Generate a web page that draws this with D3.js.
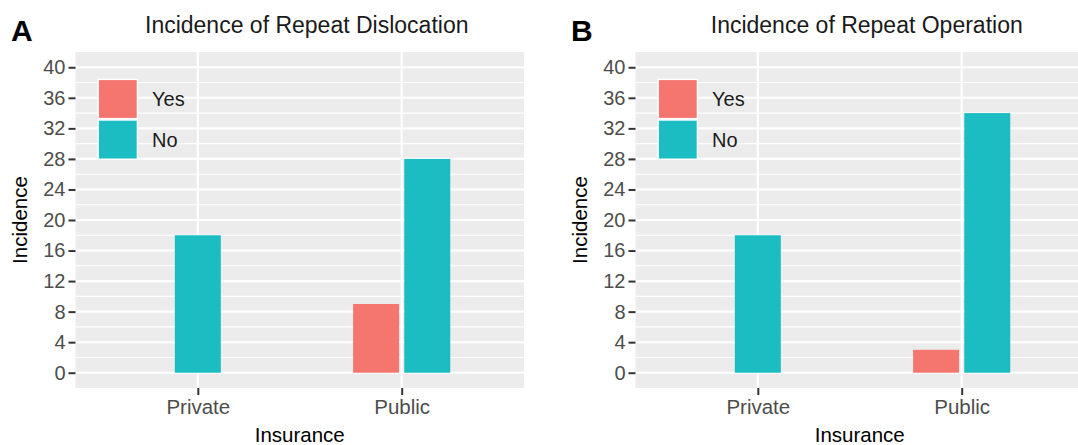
<!DOCTYPE html>
<meta charset="utf-8">
<script src="https://d3js.org/d3.v7.min.js"></script>
<style>
  body { margin: 0; background: #fff; }
  svg text { font-family: "Liberation Sans", Arial, Helvetica, sans-serif; }
</style>
<div id="chart"></div>
<script>
// data
var categories = ["Private", "Public"];
var groups = ["Yes", "No"];
var panelLabels = ["A", "B"];
var panelTitles = ["Incidence of Repeat Dislocation", "Incidence of Repeat Operation"];
// null = no bar for that group
var dislocationYes = [null, 9];
var dislocationNo = [18, 28];
var operationYes = [null, 3];
var operationNo = [18, 34];
var yTicks = [0, 4, 8, 12, 16, 20, 24, 28, 32, 36, 40];
var yMinor = [2, 6, 10, 14, 18, 22, 26, 30, 34, 38];

var colors = { Yes: "#F5766F", No: "#1CBDC2" };

var W = 1078, H = 445;
var svg = d3.select("#chart").append("svg")
  .attr("width", W).attr("height", H);

var margin = { top: 52, left: 75.5 },
    pw = 448.5, ph = 336;

var panels = [
  { label: panelLabels[0], title: panelTitles[0], yes: dislocationYes, no: dislocationNo, dx: 0 },
  { label: panelLabels[1], title: panelTitles[1], yes: operationYes, no: operationNo, dx: 560 }
];

panels.forEach(function(p) {
  var root = svg.append("g").attr("transform", "translate(" + p.dx + ",0)");

  // panel label
  root.append("text")
    .attr("x", 11).attr("y", 41)
    .attr("font-size", "30px").attr("font-weight", "bold")
    .text(p.label);

  // title
  root.append("text")
    .attr("x", margin.left + pw / 2 + 7).attr("y", 33)
    .attr("text-anchor", "middle")
    .attr("font-size", "23px").attr("fill", "#1a1a1a")
    .text(p.title);

  var g = root.append("g").attr("transform", "translate(" + margin.left + "," + margin.top + ")");

  var x = d3.scalePoint().domain(categories).range([0, pw]).padding(0.6);
  var y = d3.scaleLinear().domain([-2, 42]).range([ph, 0]);

  g.append("rect").attr("width", pw).attr("height", ph).attr("fill", "#EBECEB");

  // grid
  g.selectAll(".minor").data(yMinor).enter().append("line")
    .attr("x1", 0).attr("x2", pw)
    .attr("y1", function(d) { return y(d); }).attr("y2", function(d) { return y(d); })
    .attr("stroke", "#fff").attr("stroke-width", 1.1);
  g.selectAll(".major").data(yTicks).enter().append("line")
    .attr("x1", 0).attr("x2", pw)
    .attr("y1", function(d) { return y(d); }).attr("y2", function(d) { return y(d); })
    .attr("stroke", "#fff").attr("stroke-width", 2.1);
  g.selectAll(".vmajor").data(categories).enter().append("line")
    .attr("x1", function(d) { return x(d); }).attr("x2", function(d) { return x(d); })
    .attr("y1", 0).attr("y2", ph)
    .attr("stroke", "#fff").attr("stroke-width", 2.1);

  // bars (dodged; a lone bar sits centred)
  var barW = x.step() * 0.2256, off = x.step() * 0.1255;
  var rows = [];
  categories.forEach(function(c, i) {
    var present = groups.filter(function(gr) { return (gr === "Yes" ? p.yes[i] : p.no[i]) != null; });
    present.forEach(function(gr, j) {
      var shift = present.length === 1 ? 0 : (j === 0 ? -off : off);
      rows.push({ cat: c, group: gr, value: gr === "Yes" ? p.yes[i] : p.no[i], shift: shift });
    });
  });
  g.selectAll(".bar").data(rows).enter().append("rect")
    .attr("x", function(d) { return x(d.cat) + d.shift - barW / 2; })
    .attr("width", barW)
    .attr("y", function(d) { return y(d.value); })
    .attr("height", function(d) { return y(0) - y(d.value); })
    .attr("fill", function(d) { return colors[d.group]; });

  // axes
  var yAxis = g.append("g")
    .call(d3.axisLeft(y).tickValues(yTicks).tickSize(7).tickPadding(3));
  yAxis.select(".domain").remove();
  yAxis.selectAll("line").attr("stroke", "#333").attr("stroke-width", 2);
  yAxis.selectAll("text").attr("font-size", "20px").attr("fill", "#4D4D4D")
    .attr("font-family", null);

  var xAxis = g.append("g").attr("transform", "translate(0," + ph + ")")
    .call(d3.axisBottom(x).tickSize(7).tickPadding(4));
  xAxis.select(".domain").remove();
  xAxis.selectAll("line").attr("stroke", "#333").attr("stroke-width", 2);
  xAxis.selectAll("text").attr("font-size", "20.5px").attr("fill", "#4D4D4D")
    .attr("font-family", null);

  // axis titles
  root.append("text")
    .attr("x", margin.left + pw / 2).attr("y", 442)
    .attr("text-anchor", "middle").attr("font-size", "20.5px")
    .text("Insurance");
  root.append("text")
    .attr("transform", "translate(27," + (margin.top + ph / 2) + ") rotate(-90)")
    .attr("text-anchor", "middle").attr("font-size", "20.5px")
    .text("Incidence");

  // legend
  var leg = g.append("g").attr("transform", "translate(22,26.7)");
  var key = 40.6;
  groups.forEach(function(gr, i) {
    var k = leg.append("g").attr("transform", "translate(0," + (i * key) + ")");
    k.append("rect").attr("width", key).attr("height", key).attr("fill", "#fff");
    k.append("rect").attr("x", 1.4).attr("y", 1.4)
      .attr("width", key - 2.8).attr("height", key - 2.8)
      .attr("fill", colors[gr]);
    k.append("text").attr("x", key + 14).attr("y", key / 2 + 7)
      .attr("font-size", "20px").attr("fill", "#1a1a1a")
      .text(gr);
  });
});
</script>
